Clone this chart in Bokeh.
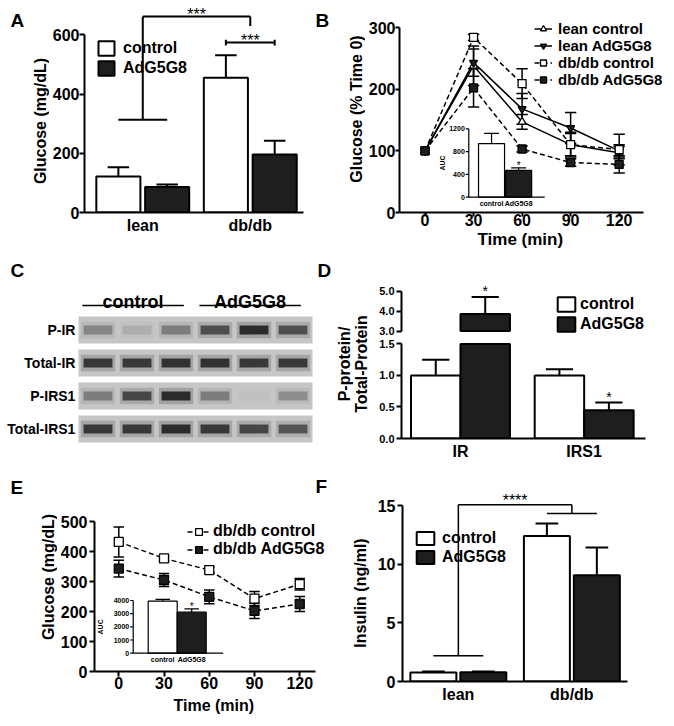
import math
import numpy as np
from bokeh.plotting import figure
from bokeh.models import Range1d, Legend, LegendItem, Title, NumeralTickFormatter
from bokeh.layouts import row, column
from bokeh.embed import file_html
from bokeh.resources import INLINE
from bokeh.core.properties import value

FONT = "Liberation Sans"
DARK = "#1e1e1e"

# ---------------- data ----------------
# A: fasting glucose
A_groups = ["lean", "db/db"]
A_ctrl = [122, 455]
A_ctrl_err = [31, 76]
A_adg = [86, 196]
A_adg_err = [9, 46]
A_yticks = [0, 200, 400, 600]
A_sig_top = 662
A_sig_left_end = 313
A_sig_right_end = 630
A_sig_inner = 574

# B: glucose, % of time 0
B_time = [0, 30, 60, 90, 120]
B_names = ["lean control", "lean AdG5G8", "db/db control", "db/db AdG5G8"]
B_lean_ctrl = [100, 238, 147, 110, 97]
B_lean_ctrl_err = [0, 32, 12, 18, 10]
B_lean_adg = [100, 243, 168, 137, 100]
B_lean_adg_err = [0, 22, 25, 25, 10]
B_db_ctrl = [100, 284, 209, 110, 102]
B_db_ctrl_err = [0, 5, 24, 20, 25]
B_db_adg = [100, 202, 103, 81, 78]
B_db_adg_err = [0, 31, 5, 6, 14]
B_yticks = [0, 100, 200, 300]
AUC_groups = ["control", "AdG5G8"]
B_auc = [940, 470]
B_auc_err = [180, 46]
B_auc_yticks = [0, 400, 800, 1200]

# C: western blot (relative band intensity per lane)
C_rows = ["P-IR", "Total-IR", "P-IRS1", "Total-IRS1"]
C_groups = ["control", "AdG5G8"]
C_lane_group = [0, 0, 0, 1, 1, 1]
C_p_ir = [0.35, 0.12, 0.40, 0.70, 0.95, 0.70]
C_total_ir = [0.85, 0.85, 0.90, 0.90, 0.85, 0.85]
C_p_irs1 = [0.40, 0.75, 0.95, 0.40, 0.03, 0.30]
C_total_irs1 = [0.85, 0.85, 0.95, 0.85, 0.75, 0.65]

# D: P-protein / total protein
D_groups = ["IR", "IRS1"]
D_ctrl = [1.0, 1.0]
D_ctrl_err = [0.25, 0.10]
D_adg = [3.85, 0.45]
D_adg_err = [0.85, 0.12]
D_low_ticks = [0, 0.5, 1.0, 1.5]
D_high_ticks = [3.0, 4.0, 5.0]
D_break = (1.5, 3.0)

# E: db/db glucose
E_time = [0, 30, 60, 90, 120]
E_names = ["db/db control", "db/db AdG5G8"]
E_ctrl = [432, 377, 338, 243, 291]
E_ctrl_err = [50, 7, 10, 24, 19]
E_adg = [343, 305, 249, 202, 225]
E_adg_err = [28, 22, 23, 25, 25]
E_yticks = [0, 100, 200, 300, 400, 500]
E_auc = [3950, 3110]
E_auc_err = [130, 260]
E_auc_yticks = [0, 1000, 2000, 3000, 4000]

# F: insulin
F_groups = ["lean", "db/db"]
F_ctrl = [0.77, 12.43]
F_ctrl_err = [0.08, 1.06]
F_adg = [0.80, 9.08]
F_adg_err = [0.05, 2.36]
F_yticks = [0, 5, 10, 15]
F_sig_top = 15.1
F_sig_left_end = 2.19
F_sig_right_end = 14.35


# ---------------- helpers ----------------
def make_fig(W, H, xr, yr, bl, br, bt, bb, axes=True):
    kw = {}
    if not axes:
        kw = dict(x_axis_location=None, y_axis_location=None)
    p = figure(width=W, height=H, x_range=Range1d(*xr), y_range=Range1d(*yr),
               output_backend="svg", toolbar_location=None, title=None,
               min_border_left=bl, min_border_right=br,
               min_border_top=bt, min_border_bottom=bb, **kw)
    p.grid.visible = False
    p.outline_line_color = None
    return p


def strip(W, H, x0, y0, bt=0, bb=0):
    # a text-only figure whose data units are page pixels
    return make_fig(W, H, (x0, x0 + W), (y0 + H - bb, y0 + bt), 0, 0, bt, bb,
                    axes=False)


def txt(p, x, y, s, size="16px", align="left", baseline="top", angle=0.0,
        lh=1.2, style="bold", **kw):
    p.text(x=[x], y=[y], text=[s], text_font=value(FONT), text_font_style=style,
           text_font_size=size, text_align=align, text_baseline=baseline,
           angle=angle, text_line_height=lh, text_color="black", **kw)


def style_axis(ax, size="16px", tick_out=5, standoff=0, lw=2):
    ax.axis_line_width = lw
    ax.axis_line_color = "black"
    ax.major_tick_line_width = lw
    ax.major_tick_line_color = "black"
    ax.major_tick_in = 0
    ax.major_tick_out = tick_out
    ax.minor_tick_line_color = None
    ax.major_label_text_font = FONT
    ax.major_label_text_font_style = "bold"
    ax.major_label_text_font_size = size
    ax.major_label_text_color = "black"
    ax.major_label_standoff = standoff


def draw_bars(p, ctrl, ctrl_err, adg, adg_err, off, width, cap, lw=2):
    g = np.arange(1, len(ctrl) + 1, dtype=float)
    xs = np.concatenate([g - off, g + off])
    m = np.concatenate([ctrl, adg]).astype(float)
    e = np.concatenate([ctrl_err, adg_err]).astype(float)
    p.segment(x0=xs, y0=m, x1=xs, y1=m + e, line_color="black", line_width=lw)
    p.segment(x0=xs - cap / 2, y0=m + e, x1=xs + cap / 2, y1=m + e,
              line_color="black", line_width=lw)
    rc = p.vbar(x=g - off, top=ctrl, width=width, fill_color="white",
                line_color="black", line_width=lw)
    ra = p.vbar(x=g + off, top=adg, width=width, fill_color=DARK,
                line_color="black", line_width=lw)
    return rc, ra


def legend(p, items, loc, gw, gh, standoff, spacing, size="16px"):
    lg = Legend(items=[LegendItem(label=n, renderers=r) for n, r in items],
                location=loc, glyph_width=gw, glyph_height=gh,
                label_standoff=standoff, spacing=spacing, padding=0, margin=0,
                border_line_color=None, background_fill_alpha=0,
                inactive_fill_alpha=0, label_text_color="black",
                label_text_font=FONT, label_text_font_style="bold",
                label_text_font_size=size, label_height=gh)
    p.add_layout(lg)


def bar_legend(p, rc, ra, loc, gw, gh, standoff, spacing, size="16px"):
    legend(p, [("control", [rc]), ("AdG5G8", [ra])], loc, gw, gh, standoff,
           spacing, size)


def cat_xaxis(p, labels, size="16px", standoff=4):
    style_axis(p.xaxis[0], size=size, tick_out=0, standoff=standoff)
    p.xaxis.ticker = list(range(1, len(labels) + 1))
    p.xaxis.major_label_overrides = {i + 1: t for i, t in enumerate(labels)}


def sig_text(p, xs, ys, texts, size="16px", yoff=-2, **kw):
    p.text(x=xs, y=ys, text=texts, text_font=value(FONT), text_font_size=size,
           text_align="center", text_baseline="alphabetic", text_color="black",
           y_offset=yoff, **kw)


def series(p, t, v, e, dash, cw, lw=1.5):
    t = np.array(t, float)
    v = np.array(v, float)
    e = np.array(e, float)
    ln = p.line(t, v, line_color="black", line_width=lw, line_dash=dash)
    k = e > 0
    p.segment(x0=t[k], y0=v[k] - e[k], x1=t[k], y1=v[k] + e[k],
              line_color="black", line_width=lw)
    p.segment(x0=t[k] - cw, y0=v[k] + e[k], x1=t[k] + cw, y1=v[k] + e[k],
              line_color="black", line_width=lw)
    p.segment(x0=t[k] - cw, y0=v[k] - e[k], x1=t[k] + cw, y1=v[k] - e[k],
              line_color="black", line_width=lw)
    return ln


def x_title(p, text, offset, standoff, size="16px"):
    p.add_layout(Title(text=text, align="left", offset=offset, standoff=standoff,
                       vertical_align="top", text_font=FONT, text_font_style="bold",
                       text_font_size=size, text_color="black"), "below")


def auc_inset(p, xr, yr, vals, errs, yticks, ybound, ax0, ax1, auc_x,
              pxx, width, cap, lw=1.2):
    # inset drawn with its own (extra) x/y scales inside the main frame
    p.extra_x_ranges["ix"] = Range1d(*xr)
    p.extra_y_ranges["iy"] = Range1d(*yr)
    kw = dict(x_range_name="ix", y_range_name="iy")
    g = np.arange(1, len(vals) + 1, dtype=float)
    v = np.array(vals, float)
    e = np.array(errs, float)
    yt = np.array(yticks, float)
    tl = 3.0 / pxx
    p.segment(x0=g, y0=v, x1=g, y1=v + e, line_color="black", line_width=lw, **kw)
    p.segment(x0=g - cap / 2, y0=v + e, x1=g + cap / 2, y1=v + e,
              line_color="black", line_width=lw, **kw)
    p.vbar(x=g, top=v, width=width, fill_color=["white", DARK],
           line_color="black", line_width=lw, **kw)
    p.segment(x0=[ax0, ax0], y0=[0, 0], x1=[ax0, ax1], y1=[ybound, 0],
              line_color="black", line_width=lw, **kw)
    p.segment(x0=[ax0] * len(yt), y0=yt, x1=[ax0 - tl] * len(yt), y1=yt,
              line_color="black", line_width=lw, **kw)
    p.text(x=[ax0 - tl - 1.0 / pxx] * len(yt), y=yt, text=[str(int(t)) for t in yt],
           text_font=value(FONT), text_font_style="bold", text_font_size="7px",
           text_align="right", text_baseline="middle", text_color="black", **kw)
    p.text(x=g, y=[0] * len(g), text=AUC_groups, text_font=value(FONT),
           text_font_style="bold", text_font_size="7px", text_align="center",
           text_baseline="top", y_offset=3, text_color="black", **kw)
    p.text(x=[auc_x], y=[ybound / 2], text=["AUC"], text_font=value(FONT),
           text_font_style="bold", text_font_size="7px", text_align="center",
           text_baseline="middle", angle=math.pi / 2, text_color="black", **kw)
    sig_text(p, [2], [v[1] + e[1]], ["*"], size="10px", yoff=-2, **kw)


def solo(p):
    # wrap a plot so that a row does not align its borders with its neighbours
    return column(p)


# ================= ROW 1 =================
sA = strip(49, 252, 0, 0, 0, 40)
txt(sA, 10, 9, "A", size="19px")
txt(sA, 40, 120.5, "Glucose (mg/dL)", align="center", baseline="middle",
    angle=math.pi / 2)

# ---- panel A ----
pA = make_fig(261, 252, (0.458, 2.495), (0, 212 / 0.296), 34, 7, 0, 40)
style_axis(pA.yaxis[0])
pA.yaxis.ticker = A_yticks
pA.yaxis.bounds = (0, 600)
cat_xaxis(pA, A_groups)
offA = 0.227
rcA, raA = draw_bars(pA, A_ctrl, A_ctrl_err, A_adg, A_adg_err, offA, 0.41, 0.2)
pA.segment(x0=[1, 1, 2, 1 - offA, 2 - offA, 2 - offA, 2 + offA],
           y0=[A_sig_left_end, A_sig_top, A_sig_top, A_sig_left_end, A_sig_inner,
               A_sig_inner - 10, A_sig_inner - 10],
           x1=[1, 2, 2, 1 + offA, 2 + offA, 2 - offA, 2 + offA],
           y1=[A_sig_top, A_sig_top, A_sig_right_end, A_sig_left_end, A_sig_inner,
               A_sig_inner + 10, A_sig_inner + 10],
           line_color="black", line_width=2)
sig_text(pA, [1.5, 2.0], [A_sig_top, A_sig_inner], ["***", "***"])
bar_legend(pA, rcA, raA, (12, 135), 20, 18, 7, 2)

sB = strip(55, 252, 310, 0, 0, 40)
txt(sB, 315, 9, "B", size="19px")
txt(sB, 355.5, 108.5, "Glucose (% Time 0)", align="center", baseline="middle",
    angle=math.pi / 2)

# ---- panel B ----
pB = make_fig(309, 252, (-15.77, 154.2), (0, 343.8), 32, 0, 0, 40)
style_axis(pB.yaxis[0], tick_out=4, standoff=0)
pB.yaxis.ticker = B_yticks
pB.yaxis.bounds = (0, 300)
style_axis(pB.xaxis[0], tick_out=4, standoff=-3)
pB.xaxis.ticker = B_time
pB.xaxis.bounds = (-15.77, 135.15)
x_title(pB, "Time (min)", 78, 2, size="17px")
B_vals = [B_lean_ctrl, B_lean_adg, B_db_ctrl, B_db_adg]
B_errs = [B_lean_ctrl_err, B_lean_adg_err, B_db_ctrl_err, B_db_adg_err]
B_markers = ["triangle", "inverted_triangle", "square", "square"]
B_fills = ["white", DARK, "white", DARK]
B_dash = ["solid", "solid", "5 3", "5 3"]
B_lines = [series(pB, B_time, v, e, d, 3.5) for v, e, d in zip(B_vals, B_errs, B_dash)]
B_marks = [pB.scatter(B_time, v, marker=m, size=8, fill_color=f, line_color="black",
                      line_width=1.3)
           for v, m, f in zip(B_vals, B_markers, B_fills)]
auc_inset(pB, (-2.396, 7.751), (-268.4, 3450.9), B_auc, B_auc_err, B_auc_yticks,
          1200, 0.16, 2.96, -0.82, 27.3, 0.96, 0.55)
legend(pB, [(n, [ln, mk]) for n, ln, mk in zip(B_names, B_lines, B_marks)],
       (135, 124), 18, 15, 6, -2, size="15px")

# ================= ROW 2 =================
C_W = 371
C_px_x, C_px_y = 39.0, 33.0
C_x0, C_y0 = -1.5, -2.348
pC = make_fig(C_W, 210, (C_x0, C_x0 + C_W / C_px_x), (C_y0 + 210 / C_px_y, C_y0),
              0, 0, 0, 0, axes=False)


def cx(px):
    return C_x0 + px / C_px_x


def cy(py):
    return C_y0 + (py - 252) / C_px_y


nl = len(C_lane_group)
lanes = np.arange(1, nl + 1, dtype=float)
rows_idx = np.arange(len(C_rows), dtype=float)
pC.rect(x=[lanes.mean()] * len(C_rows), y=rows_idx, width=nl, height=0.82,
        fill_color="#c6c6c6", line_color=None)
C_all = [C_p_ir, C_total_ir, C_p_irs1, C_total_irs1]
bx = np.tile(lanes, len(C_rows))
by = np.repeat(rows_idx, nl)
bi = np.concatenate(C_all)
pC.rect(x=bx, y=by, width=0.88, height=0.5, fill_color="#1a1a1a",
        fill_alpha=list(bi * 0.22), line_color=None)
pC.rect(x=bx, y=by, width=0.74, height=0.27, fill_color="#1a1a1a",
        fill_alpha=list(bi * 0.92), line_color=None)
pC.text(x=[0.42] * len(C_rows), y=rows_idx, text=C_rows, text_font=value(FONT),
        text_font_style="bold", text_font_size="14px", text_align="right",
        text_baseline="middle", text_color="black")
grp_first = np.array([lanes[[i for i, g in enumerate(C_lane_group) if g == k]].min()
                      for k in range(len(C_groups))])
grp_last = np.array([lanes[[i for i, g in enumerate(C_lane_group) if g == k]].max()
                     for k in range(len(C_groups))])
u0 = grp_first - 0.4
u1 = grp_last + 0.2
pC.segment(x0=u0, y0=[-0.74] * 2, x1=u1, y1=[-0.74] * 2, line_color="black",
           line_width=1.5)
pC.text(x=(u0 + u1) / 2, y=[-0.86] * 2, text=C_groups, text_font=value(FONT),
        text_font_size="18px", text_font_style="bold", text_align="center",
        text_baseline="alphabetic", text_color="black")
txt(pC, cx(10), cy(259), "C", size="19px")
txt(pC, cx(317), cy(259), "D", size="19px")
txt(pC, cx(352.5), cy(363.5), "P-protein/\nTotal-Protein", align="center",
    baseline="middle", angle=math.pi / 2, lh=1.0)

# ---- panel D ----
offD = 0.2
gD = np.arange(1, len(D_groups) + 1, dtype=float)
xsD = np.concatenate([gD - offD, gD + offD])
mD = np.concatenate([D_ctrl, D_adg]).astype(float)
eD = np.concatenate([D_ctrl_err, D_adg_err]).astype(float)
D_W = 674 - C_W
D_xr = (0.523, 2.496)

# upper segment (3.0-5.0)
pDt = make_fig(D_W, 85, D_xr, (2.825, 5.925), 30, 29, 20, 3)
pDt.xaxis.visible = False
style_axis(pDt.yaxis[0], size="11px", tick_out=5, standoff=2)
pDt.yaxis.ticker = D_high_ticks
pDt.yaxis.bounds = (D_break[1], 5.0)
pDt.yaxis.formatter = NumeralTickFormatter(format="0.0")
hik = mD > D_break[1]
pDt.segment(x0=xsD[hik], y0=mD[hik], x1=xsD[hik], y1=(mD + eD)[hik],
            line_color="black", line_width=2)
pDt.segment(x0=xsD[hik] - 0.11, y0=(mD + eD)[hik], x1=xsD[hik] + 0.11,
            y1=(mD + eD)[hik], line_color="black", line_width=2)
rcDt = pDt.vbar(x=gD - offD, top=D_ctrl, width=0.4, fill_color="white",
                line_color="black", line_width=2, visible=False)
raDt = pDt.vbar(x=xsD[hik], bottom=D_break[1], top=mD[hik], width=0.4,
                fill_color=DARK, line_color="black", line_width=2)
sig_text(pDt, list(xsD[hik]), list((mD + eD)[hik]), ["*"], size="14px", yoff=-6)
bar_legend(pDt, rcDt, raDt, (154, 1), 22, 18, 3, 2)

# lower segment (0-1.5)
pDb = make_fig(D_W, 125, D_xr, (0, 1.5233), 30, 29, 5, 22)
style_axis(pDb.yaxis[0], size="11px", tick_out=5, standoff=2)
pDb.yaxis.ticker = D_low_ticks
pDb.yaxis.bounds = (0, D_break[0])
pDb.yaxis.formatter = NumeralTickFormatter(format="0.0")
cat_xaxis(pDb, D_groups)
lowk = mD + eD <= D_break[0]
pDb.segment(x0=xsD[lowk], y0=mD[lowk], x1=xsD[lowk], y1=(mD + eD)[lowk],
            line_color="black", line_width=2)
pDb.segment(x0=xsD[lowk] - 0.11, y0=(mD + eD)[lowk], x1=xsD[lowk] + 0.11,
            y1=(mD + eD)[lowk], line_color="black", line_width=2)
pDb.vbar(x=gD - offD, top=np.minimum(D_ctrl, D_break[0]), width=0.4,
         fill_color="white", line_color="black", line_width=2)
pDb.vbar(x=gD + offD, top=np.minimum(D_adg, D_break[0]), width=0.4,
         fill_color=DARK, line_color="black", line_width=2)
sig_text(pDb, [2 + offD], [D_adg[1] + D_adg_err[1]], ["*"], size="14px", yoff=-6)

# ================= ROW 3 =================
sE = strip(57, 264, 0, 462, 0, 55)
txt(sE, 10, 476, "E", size="19px")
txt(sE, 47.5, 576.5, "Glucose (mg/dL)", align="center", baseline="middle",
    angle=math.pi / 2)

# ---- panel E (frame widened to the right so the legend fits; axis bounded) ----
E_pxx, E_pxy = 1.508, 0.3
E_x0 = -16.1
pE = make_fig(278, 264, (E_x0, E_x0 + 241 / E_pxx), (0, 209 / E_pxy), 37, 0, 0, 55)
style_axis(pE.yaxis[0], tick_out=5, standoff=2)
pE.yaxis.ticker = E_yticks
pE.yaxis.bounds = (0, 500)
style_axis(pE.xaxis[0], tick_out=5, standoff=0)
pE.xaxis.ticker = E_time
pE.xaxis.bounds = (E_x0, E_x0 + 221 / E_pxx)
x_title(pE, "Time (min)", 79, 10)
lnE1 = series(pE, E_time, E_ctrl, E_ctrl_err, "5 3", 3.5)
lnE2 = series(pE, E_time, E_adg, E_adg_err, "5 3", 3.5)
mkE1 = pE.scatter(E_time, E_ctrl, marker="square", size=9, fill_color="white",
                  line_color="black", line_width=1.3)
mkE2 = pE.scatter(E_time, E_adg, marker="square", size=9, fill_color=DARK,
                  line_color="black", line_width=1.3)
auc_inset(pE, (-1.352, 6.959), (-1389, 14474), E_auc, E_auc_err, E_auc_yticks,
          4000, -0.017, 3.086, -1.162, 29.0, 1.0, 0.5)
legend(pE, [(E_names[0], [lnE1, mkE1]), (E_names[1], [lnE2, mkE2])],
       (93, 113), 23, 17, 3, 0, size="16px")
# letter "F" sits above the top-right of the E frame
txt(pE, E_x0 + (315 - 94) / E_pxx, (671 - 475) / E_pxy, "F", size="19px")

sF = strip(35, 264, 335, 462, 0, 0)
txt(sF, 360, 592.5, "Insulin (ng/ml)", align="center", baseline="middle",
    angle=math.pi / 2)

# ---- panel F ----
pF = make_fig(304, 264, (0.508, 2.490), (0, 16.99), 32, 47, 20, 45)
style_axis(pF.yaxis[0], tick_out=5, standoff=2)
pF.yaxis.ticker = F_yticks
pF.yaxis.bounds = (0, 15)
cat_xaxis(pF, F_groups)
offF = 0.22
rcF, raF = draw_bars(pF, F_ctrl, F_ctrl_err, F_adg, F_adg_err, offF, 0.405, 0.2)
pF.segment(x0=[1, 1, 2, 1 - offF, 2 - offF],
           y0=[F_sig_left_end, F_sig_top, F_sig_top, F_sig_left_end, F_sig_right_end],
           x1=[1, 2, 2, 1 + offF, 2 + offF],
           y1=[F_sig_top, F_sig_top, F_sig_right_end, F_sig_left_end, F_sig_right_end],
           line_color="black", line_width=1.5)
sig_text(pF, [1.5], [F_sig_top], ["****"], yoff=-4)
bar_legend(pF, rcF, raF, (12, 115), 22, 16, 6, 1)

# ---------------- layout ----------------
layout = column(
    row(solo(sA), solo(pA), solo(sB), solo(pB)),
    row(solo(pC), column(solo(pDt), solo(pDb))),
    row(solo(sE), solo(pE), solo(sF), solo(pF)),
)

open("out.html", "w").write(file_html(layout, INLINE))
